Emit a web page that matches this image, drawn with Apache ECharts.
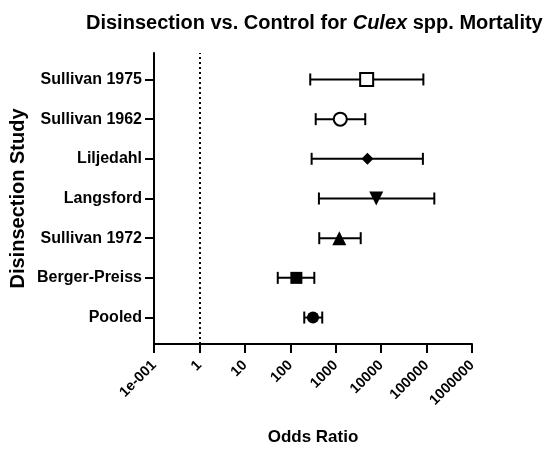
<!DOCTYPE html>
<html>
<head>
<meta charset="utf-8">
<script src="https://cdn.jsdelivr.net/npm/echarts@6/dist/echarts.min.js"></script>
<style>
  html, body { margin: 0; padding: 0; background: #fff; }
  #chart { width: 550px; height: 449px; }
</style>
</head>
<body>
<div id="chart"></div>
<script>
// studies, top to bottom
const studies = ['Sullivan 1975', 'Sullivan 1962', 'Liljedahl', 'Langsford', 'Sullivan 1972', 'Berger-Preiss', 'Pooled']
const oddsRatio = [4800, 1260, 5000, 7800, 1200, 136, 316]
const lowerCI = [275, 363, 295, 427, 434, 53, 203]
const upperCI = [85000, 4470, 83000, 148000, 3550, 338, 505]
const markers = ['emptyRect', 'emptyCircle', 'diamond', 'triangle', 'triangle', 'rect', 'circle']
const markerRotate = [0, 0, 0, 180, 0, 0, 0]
const markerSize = [13, 13, 12, 14, 14, 12, 12]

const FONT = 'Liberation Sans'
const n = studies.length
// row position on the value axis: top study highest
const rowY = studies.map((s, i) => n - i)

const chart = echarts.init(document.getElementById('chart'))

const errData = studies.map((s, i) => [lowerCI[i], upperCI[i], rowY[i]])
const pointData = studies.map((s, i) => {
  const empty = markers[i].indexOf('empty') === 0
  return {
    value: [oddsRatio[i], rowY[i]],
    symbol: empty ? markers[i].replace('empty', '').toLowerCase() : markers[i],
    symbolRotate: markerRotate[i],
    symbolSize: markerSize[i],
    itemStyle: { color: empty ? '#fff' : '#000', borderColor: '#000', borderWidth: empty ? 2 : 0, opacity: 1 }
  }
})

chart.setOption({
  animation: false,
  title: {
    text: 'Disinsection vs. Control for {i|Culex} spp. Mortality',
    left: 81,
    top: 8,
    textStyle: {
      fontFamily: FONT, fontWeight: 'bold', fontSize: 20, color: '#000',
      rich: { i: { fontFamily: FONT, fontWeight: 'bold', fontStyle: 'italic', fontSize: 20, color: '#000' } }
    }
  },
  grid: { left: 154, right: 78, top: 53, bottom: 105, outerBoundsMode: 'none', containLabel: false },
  xAxis: {
    type: 'log',
    logBase: 10,
    min: 0.1,
    max: 1000000,
    name: 'Odds Ratio',
    nameLocation: 'middle',
    nameGap: 85,
    nameMoveOverlap: false,
    nameTextStyle: { fontFamily: FONT, fontWeight: 'bold', fontSize: 17, color: '#000' },
    axisLine: { lineStyle: { color: '#000', width: 2 } },
    axisTick: { length: 9, lineStyle: { color: '#000', width: 2 } },
    axisLabel: {
      rotate: 45,
      margin: 19,
      fontFamily: FONT, fontWeight: 'bold', fontSize: 14.5, color: '#000',
      formatter: v => (Math.abs(v - 0.1) < 1e-9 ? '1e-001' : String(Math.round(v)))
    },
    splitLine: { show: false },
    minorTick: { show: false }
  },
  yAxis: {
    type: 'value',
    min: 1 / 3,
    max: n + 2 / 3,
    name: 'Disinsection Study',
    nameLocation: 'middle',
    nameGap: 126,
    nameMoveOverlap: false,
    nameTextStyle: { fontFamily: FONT, fontWeight: 'bold', fontSize: 20, color: '#000' },
    axisLine: { show: true, lineStyle: { color: '#000', width: 2 } },
    axisTick: { show: true, length: 9, customValues: rowY, lineStyle: { color: '#000', width: 2 } },
    axisLabel: {
      customValues: rowY,
      margin: 12,
      fontFamily: FONT, fontWeight: 'bold', fontSize: 16, color: '#000',
      formatter: v => studies[n - Math.round(v)] || ''
    },
    splitLine: { show: false }
  },
  series: [
    {
      type: 'custom',
      data: errData,
      encode: { x: [0, 1], y: 2 },
      markLine: {
        silent: true,
        symbol: 'none',
        label: { show: false },
        lineStyle: { color: '#000', type: [2, 3], width: 2 },
        data: [{ xAxis: 1 }]
      },
      renderItem: (params, api) => {
        const y = api.value(2)
        const p0 = api.coord([api.value(0), y])
        const p1 = api.coord([api.value(1), y])
        const cap = 6
        const style = { stroke: '#000', lineWidth: 2, fill: null }
        return {
          type: 'group',
          children: [
            { type: 'line', shape: { x1: p0[0], y1: p0[1], x2: p1[0], y2: p1[1] }, style },
            { type: 'line', shape: { x1: p0[0], y1: p0[1] - cap, x2: p0[0], y2: p0[1] + cap }, style },
            { type: 'line', shape: { x1: p1[0], y1: p1[1] - cap, x2: p1[0], y2: p1[1] + cap }, style }
          ]
        }
      }
    },
    {
      type: 'scatter',
      data: pointData,
      z: 5
    }
  ]
})
</script>
</body>
</html>
